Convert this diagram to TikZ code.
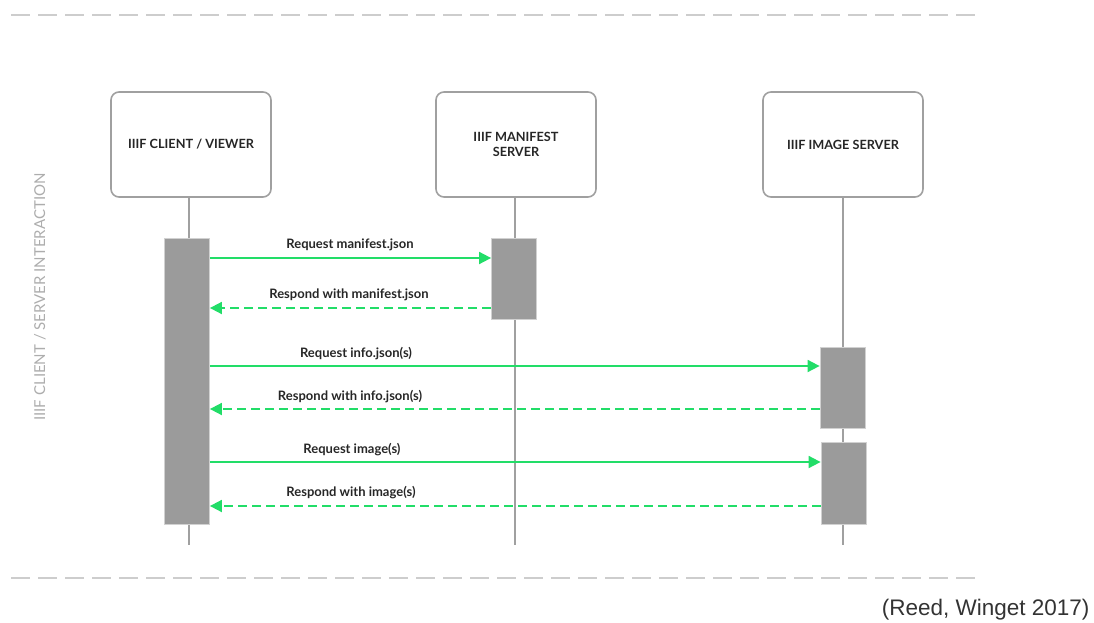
\documentclass[tikz,border=0pt]{standalone}
\usepackage{fontspec}
\setmainfont{Lato}
\newfontfamily\citefont{Liberation Sans}
\usetikzlibrary{arrows.meta}

\definecolor{msggreen}{RGB}{34,221,104}
\definecolor{linegray}{RGB}{160,160,160}
\definecolor{bargray}{RGB}{155,155,155}
\definecolor{rulegray}{RGB}{205,205,205}

\begin{document}
\begin{tikzpicture}[x=1pt, y=-1pt,
	actor/.style={rectangle, draw=linegray, line width=1.6pt, rounded corners=8pt, minimum width=160pt, minimum height=105pt, align=center, text=black!85, font=\bfseries\fontsize{12.7}{15}\selectfont},
	bar/.style={rectangle, draw=black!18, fill=bargray, line width=0.8pt, minimum width=45pt, inner sep=0pt},
	life/.style={linegray, line width=1.6pt},
	call/.style={msggreen, line width=1.8pt, -{Triangle[length=12pt, width=12pt]}},
	reply/.style={call, dash pattern=on 9pt off 5pt},
	msg/.style={text=black!85, font=\bfseries\fontsize{13}{15}\selectfont},
	rule/.style={rulegray, line width=1.8pt, dash pattern=on 19pt off 8pt}]

	\useasboundingbox (0,0) rectangle (1094,623);

	\coordinate (top1) at (11,15);
	\coordinate (top2) at (975,15);
	\coordinate (bot1) at (11,578);
	\coordinate (bot2) at (975,578);
	\draw [rule] (top1) -- (top2);
	\draw [rule] (bot1) -- (bot2);

	\node [rotate=90, text=black!32, font=\fontsize{15}{17}\selectfont] (side) at (40,297) {IIIF CLIENT / SERVER INTERACTION};

	\node [actor] (client) at (191,144.5) {IIIF CLIENT / VIEWER};
	\node [actor] (manifest) at (516,144.5) {IIIF MANIFEST\\SERVER};
	\node [actor] (image) at (843,144.5) {IIIF IMAGE SERVER};

	\coordinate (cend) at (189,545);
	\coordinate (mend) at (515,545);
	\coordinate (iend) at (843,545);
	\draw [life] (client.south -| cend) -- (cend);
	\draw [life] (manifest.south -| mend) -- (mend);
	\draw [life] (image.south -| iend) -- (iend);

	\node [bar, minimum height=286pt] (cbar) at (187,381) {};
	\node [bar, minimum height=81pt] (mbar) at (514,278.5) {};
	\node [bar, minimum height=81pt] (ibar1) at (842.5,387.5) {};
	\node [bar, minimum height=82pt] (ibar2) at (843.5,483) {};

	\coordinate (y1) at (0,258);
	\coordinate (y2) at (0,308);
	\coordinate (y3) at (0,366);
	\coordinate (y4) at (0,409);
	\coordinate (y5) at (0,462);
	\coordinate (y6) at (0,506);

	\draw [call] (cbar.east |- y1) -- (mbar.west |- y1);
	\draw [reply] (mbar.west |- y2) -- (cbar.east |- y2);
	\draw [call] (cbar.east |- y3) -- (ibar1.west |- y3);
	\draw [reply] (ibar1.west |- y4) -- (cbar.east |- y4);
	\draw [call] (cbar.east |- y5) -- (ibar2.west |- y5);
	\draw [reply] (ibar2.west |- y6) -- (cbar.east |- y6);

	\node [msg] (m1) at (350,245) {Request manifest.json};
	\node [msg] (m2) at (349,295) {Respond with manifest.json};
	\node [msg] (m3) at (356,354) {Request info.json(s)};
	\node [msg] (m4) at (350,397) {Respond with info.json(s)};
	\node [msg] (m5) at (352,450) {Request image(s)};
	\node [msg] (m6) at (351,493) {Respond with image(s)};

	\node [anchor=east, text=black!80, font=\citefont\fontsize{22.5}{26}\selectfont] (cite) at (1093,610) {(Reed, Winget 2017)};

\end{tikzpicture}
\end{document}
